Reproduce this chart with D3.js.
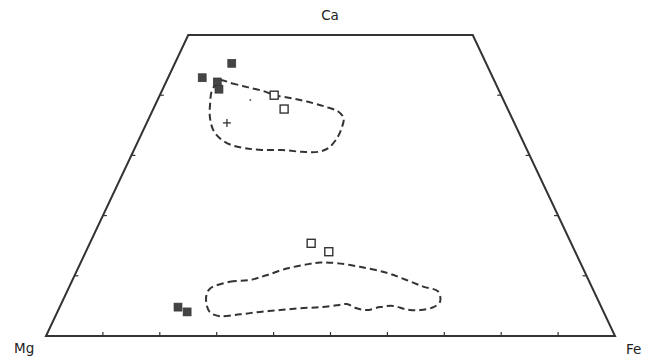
<!DOCTYPE html>
<html>
<head>
<meta charset="utf-8">
<script src="https://cdn.jsdelivr.net/npm/d3@7"></script>
<style>
  html, body { margin: 0; padding: 0; background: #fff; }
  svg { display: block; }
</style>
</head>
<body>
<svg id="chart" width="657" height="360"></svg>
<script>
// Pyroxene quadrilateral (Wo = Ca, En = Mg, Fs = Fe), values in mol %
const apexLabels = ["Ca", "Mg", "Fe"];
const frameCorners = [[0, 0], [0, 100], [50, 50], [50, 0]]; // [Wo, Fs]
const baseTicks = [10, 20, 30, 40, 50, 60, 70, 80, 90];     // Fs along Wo = 0
const sideTicks = [10, 20, 30, 40];                          // Wo along sides

// filled squares [Wo, Fs]
const filledSquares = [[45.3, 10.0], [42.9, 6.0], [42.2, 9.0], [41.0, 9.9], [4.8, 20.8], [4.0, 22.8]];
// open squares [Wo, Fs]
const openSquares = [[40.0, 20.1], [37.7, 23.0], [15.4, 38.9], [14.0, 42.7]];
// small dot and cross
const dotPoints = [[39.2, 16.3]];
const crossPoints = [[35.4, 14.1]];

// dashed field outlines [Wo, Fs]
const upperField = [[42.5, 9.3], [42.0, 11.6], [41.3, 14.9], [40.6, 18.2], [40.0, 20.2], [39.5, 23.4], [38.9, 26.6],
  [38.1, 30.0], [37.3, 32.7], [36.2, 34.2], [34.5, 34.7], [32.8, 34.7], [31.2, 34.0], [30.6, 32.6], [30.6, 29.6],
  [30.9, 26.0], [30.9, 22.5], [31.2, 19.4], [31.7, 16.8], [32.8, 14.2], [34.2, 12.3], [36.4, 10.6], [38.7, 9.5],
  [40.6, 8.8], [41.7, 8.9]];
const lowerField = [[7.9, 24.9], [9.0, 27.8], [9.3, 31.2], [10.1, 33.7], [11.2, 36.7], [11.9, 39.9], [12.2, 42.1],
  [12.1, 45.0], [11.5, 49.4], [10.5, 54.6], [9.3, 58.7], [8.2, 62.2], [7.4, 65.2], [5.7, 66.4], [4.8, 65.7],
  [4.3, 63.6], [4.4, 61.2], [5.0, 58.5], [4.8, 56.3], [4.3, 54.2], [4.6, 52.3], [5.3, 50.2], [5.1, 48.5],
  [4.8, 45.8], [4.6, 42.3], [4.3, 39.0], [4.0, 35.6], [3.6, 32.3], [3.3, 28.9], [3.9, 26.9], [5.1, 25.7], [6.8, 24.8]];

const svg = d3.select("#chart");
const ink = "#333";

// ternary scales: horizontal position from Fs + Wo/2, vertical from Wo
const xs = d3.scaleLinear().domain([0, 100]).range([46, 615]);
const ys = d3.scaleLinear().domain([0, 50]).range([336, 35]);
const px = d => xs(d[1] + d[0] / 2);
const py = d => ys(d[0]);

// frame
svg.append("path")
  .attr("d", d3.line().x(px).y(py)(frameCorners) + "Z")
  .attr("fill", "none").attr("stroke", ink).attr("stroke-width", 2).attr("stroke-linejoin", "miter");

// base ticks (pointing up)
svg.append("g").selectAll("line").data(baseTicks).join("line")
  .attr("x1", f => px([0, f])).attr("x2", f => px([0, f]))
  .attr("y1", ys(0)).attr("y2", ys(0) - 4)
  .attr("stroke", ink).attr("stroke-width", 1.2);

// side ticks (pointing inward)
svg.append("g").selectAll("line").data(sideTicks).join("line")
  .attr("x1", w => px([w, 0])).attr("x2", w => px([w, 0]) + 4)
  .attr("y1", w => py([w, 0])).attr("y2", w => py([w, 0]))
  .attr("stroke", ink).attr("stroke-width", 1.2);
svg.append("g").selectAll("line").data(sideTicks).join("line")
  .attr("x1", w => px([w, 100 - w])).attr("x2", w => px([w, 100 - w]) - 4)
  .attr("y1", w => py([w, 0])).attr("y2", w => py([w, 0]))
  .attr("stroke", ink).attr("stroke-width", 1.2);

// fields
const fieldLine = d3.line().x(px).y(py).curve(d3.curveCatmullRomClosed.alpha(0.5));
[upperField, lowerField].forEach(f => {
  svg.append("path").attr("d", fieldLine(f))
    .attr("fill", "none").attr("stroke", ink).attr("stroke-width", 2)
    .attr("stroke-dasharray", "7,4");
});

// symbols
const sq = 8;
svg.append("g").selectAll("rect").data(openSquares).join("rect")
  .attr("x", d => px(d) - sq / 2).attr("y", d => py(d) - sq / 2)
  .attr("width", sq).attr("height", sq)
  .attr("fill", "#fff").attr("stroke", ink).attr("stroke-width", 1.4);
svg.append("g").selectAll("rect").data(filledSquares).join("rect")
  .attr("x", d => px(d) - sq / 2).attr("y", d => py(d) - sq / 2)
  .attr("width", sq).attr("height", sq)
  .attr("fill", "#444").attr("stroke", "#333").attr("stroke-width", 0.6);
svg.append("g").selectAll("circle").data(dotPoints).join("circle")
  .attr("cx", px).attr("cy", py).attr("r", 1).attr("fill", "#666");
const cr = 4;
const crossG = svg.append("g").selectAll("g").data(crossPoints).join("g");
crossG.append("line").attr("x1", d => px(d) - cr).attr("x2", d => px(d) + cr)
  .attr("y1", py).attr("y2", py).attr("stroke", ink).attr("stroke-width", 1.3);
crossG.append("line").attr("x1", px).attr("x2", px)
  .attr("y1", d => py(d) - cr).attr("y2", d => py(d) + cr).attr("stroke", ink).attr("stroke-width", 1.3);

// apex labels
const font = "'DejaVu Sans', sans-serif";
svg.append("text").text(apexLabels[0]).attr("x", 330).attr("y", 20)
  .attr("text-anchor", "middle").attr("font-family", font).attr("font-size", 13.5).attr("fill", "#222");
svg.append("text").text(apexLabels[1]).attr("x", 14).attr("y", 353)
  .attr("font-family", font).attr("font-size", 13.5).attr("fill", "#222");
svg.append("text").text(apexLabels[2]).attr("x", 626).attr("y", 354)
  .attr("font-family", font).attr("font-size", 13.5).attr("fill", "#222");
</script>
</body>
</html>
